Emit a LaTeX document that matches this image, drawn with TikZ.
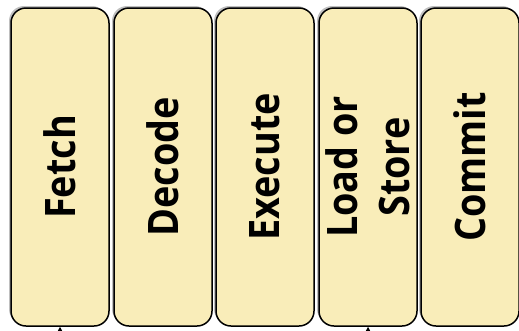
\documentclass[tikz,border=0pt]{standalone}
\usepackage{fontspec}
\setsansfont{Open Sans}[FakeStretch=0.9]
\usetikzlibrary{shadows,arrows.meta}

\definecolor{stagefill}{RGB}{249,237,185}
\newcommand{\stagefont}{\sffamily\bfseries\fontsize{42}{52}\selectfont}

\tikzset{
  stage/.style={draw, line width=1.5pt, rounded corners=15pt, fill=stagefill,
    rotate=90, minimum width=318pt, minimum height=98pt, inner sep=0pt,
    align=center, font=\stagefont,
    drop shadow={shadow xshift=-2pt, shadow yshift=2pt, opacity=0.5}},
  feed/.style={line width=1.2pt, -{Stealth[length=6pt,width=6pt]}}
}

\begin{document}
\begin{tikzpicture}[x=1pt, y=-1pt]
	\useasboundingbox (0,0) rectangle (519,330);
	% the five pipeline stages
	\node[stage] (fetch) at (60,167) {Fetch};
	\node[stage] (decode) at (163,167) {Decode};
	\node[stage] (execute) at (265,167) {Execute};
	\node[stage] (mem) at (368,167) {Load or\\Store};
	\node[stage] (commit) at (470,167) {Commit};
	% inputs coming up from below
	\coordinate (fetchin) at (60,350);
	\coordinate (memin) at (368,350);
	\draw[feed] (fetchin) -- (fetch.west);
	\draw[feed] (memin) -- (mem.west);
\end{tikzpicture}
\end{document}
